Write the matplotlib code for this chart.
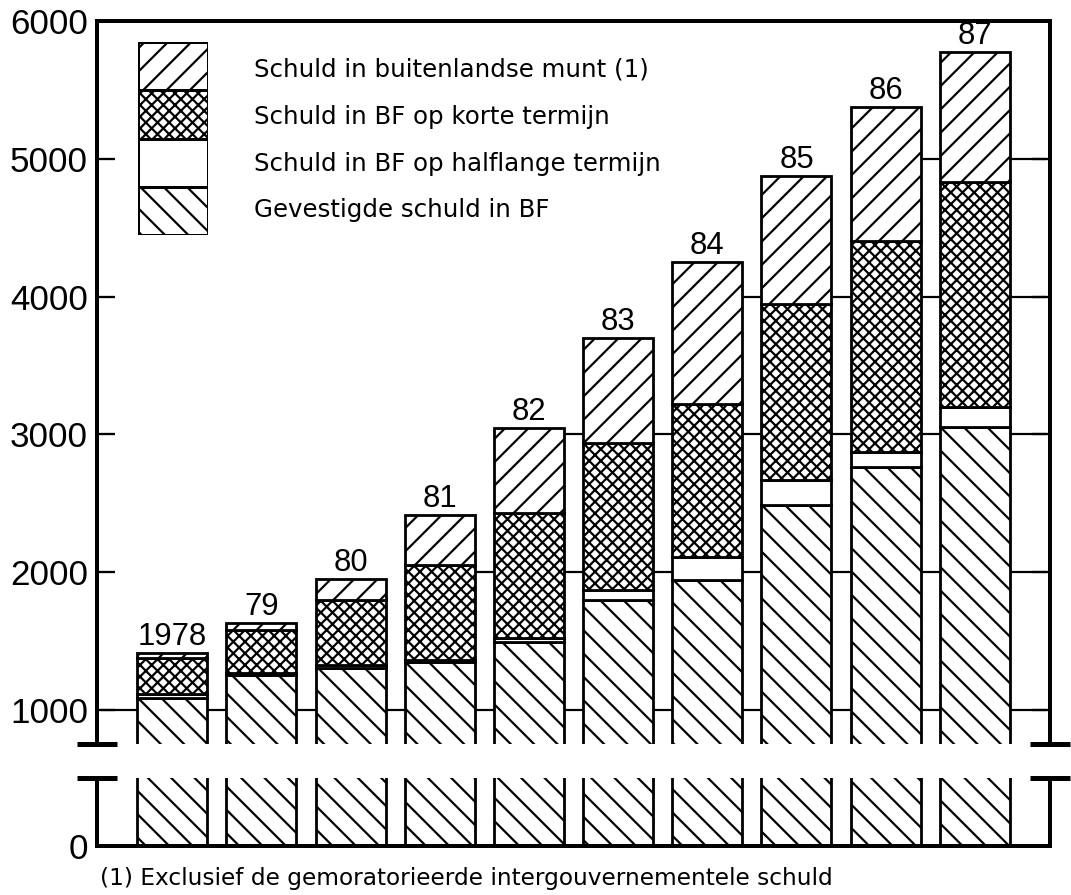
#!/usr/bin/env python3

import matplotlib
matplotlib.use("Agg")
import matplotlib.pyplot as plt
import numpy as np

# jaar-labels boven de staven
years = ["1978", "79", "80", "81", "82", "83", "84", "85", "86", "87"]

# stacked components
gevestigd = [1090, 1255, 1305, 1345, 1494, 1800, 1945, 2490, 2766, 3057]
halflang = [25, 15, 22, 15, 25, 72, 167, 182, 109, 145]
kort = [265, 312, 472, 695, 913, 1068, 1112, 1271, 1526, 1628]
buitenland = [35, 50, 153, 363, 617, 756, 1025, 930, 974, 945]

legend_labels = [
    "Schuld in buitenlandse munt (1)",
    "Schuld in BF op korte termijn",
    "Schuld in BF op halflange termijn",
    "Gevestigde schuld in BF",
]
footnote = "(1) Exclusief de gemoratorieerde intergouvernementele schuld"

yticks_top = [1000, 2000, 3000, 4000, 5000, 6000]
grid_levels = [1000, 2000, 3000, 4000, 5000]

# hatch tile is one inch, so the dpi sets the hatch spacing of the scan
W, H, DPI = 1071, 895, 70
FONT = "Liberation Sans"
TEXT_FONT = "DejaVu Sans"
BAR_W = 0.785
XLIM = (-0.843, 9.843)


def pt(px):
    """pixels -> points at the figure dpi"""
    return px * 72.0 / DPI


def draw_stack(ax, x):
    """
    draw the four stacked series into one axes
    """
    series = [
        (gevestigd, "\\"),
        (halflang, ""),
        (kort, "xx"),
        (buitenland, "/"),
    ]
    bottom = np.zeros(len(x))
    for values, hatch in series:
        ax.bar(x, values, BAR_W, bottom=bottom, color="white",
               edgecolor="black", linewidth=pt(2.8), hatch=hatch, zorder=2)
        bottom += np.array(values)
    return bottom


def break_marks(ax, y):
    for x0 in (0.0, 1.0):
        ax.plot([x0 - 0.021, x0 + 0.021], [y, y], color="black",
                linewidth=pt(5), transform=ax.transAxes, clip_on=False,
                solid_capstyle="butt")


def main():
    plt.rcParams["font.family"] = [FONT, "DejaVu Sans"]
    plt.rcParams["hatch.linewidth"] = pt(2.2)
    plt.rcParams["hatch.color"] = "black"

    fig = plt.figure(figsize=(W / DPI, H / DPI), dpi=DPI)
    left = 97 / W
    width = (1050 - 97) / W
    ax_top = fig.add_axes([left, 1 - 744 / H, width, (744 - 21) / H])
    ax_bot = fig.add_axes([left, 1 - 846 / H, width, (846 - 778) / H])

    x = np.arange(len(years))
    totals = None
    for ax in (ax_top, ax_bot):
        totals = draw_stack(ax, x)
        ax.set_xlim(*XLIM)
        ax.set_xticks([])
        for spine in ax.spines.values():
            spine.set_linewidth(pt(4))

    ax_top.set_ylim(753, 6000)
    ax_bot.set_ylim(0, 494)
    ax_top.spines["bottom"].set_visible(False)
    ax_bot.spines["top"].set_visible(False)

    ax_top.set_yticks(yticks_top)
    ax_top.set_yticklabels([str(v) for v in yticks_top])
    ax_top.tick_params(axis="y", direction="in", length=pt(18),
                       width=pt(2.3), right=True, labelsize=pt(35),
                       pad=pt(9))
    ax_bot.set_yticks([0])
    ax_bot.tick_params(axis="y", direction="in", length=0,
                       labelsize=pt(35), pad=pt(9))

    break_marks(ax_top, 0.0)
    break_marks(ax_bot, 1.0)

    # horizontal lines only where both neighbours reach the level
    edges = [XLIM[0]] + list(x) + [XLIM[1]]
    heights = [totals[0]] + list(totals) + [totals[-1]]
    for lvl in grid_levels:
        for i in range(len(edges) - 1):
            if min(heights[i], heights[i + 1]) <= lvl:
                continue
            x0 = edges[i] + (BAR_W / 2 if i > 0 else 0.06)
            x1 = edges[i + 1] - (BAR_W / 2 if i + 1 < len(edges) - 1 else 0.06)
            ax_top.plot([x0, x1], [lvl, lvl], color="black",
                        linewidth=pt(2.2), zorder=1)

    for xi, tot, lab in zip(x, totals, years):
        ax_top.annotate(lab, (xi, tot), xytext=(0, pt(8)),
                        textcoords="offset points", ha="center",
                        va="baseline", fontsize=pt(31))

    # legend drawn as a small stacked column
    ax_leg = fig.add_axes([138 / W, 1 - 235 / H, 70 / W, 193 / H])
    leg_hatch = ["\\", "", "xx", "/"]
    for i, hatch in enumerate(leg_hatch):
        ax_leg.bar(0, 1, 1.0, bottom=i, color="white", edgecolor="black",
                   linewidth=pt(3), hatch=hatch)
    ax_leg.set_xlim(-0.5, 0.5)
    ax_leg.set_ylim(0, 4)
    ax_leg.axis("off")
    for i, lab in enumerate(legend_labels):
        ax_leg.text(1.16, 3.42 - 0.97 * i, lab, ha="left", va="center",
                    fontsize=pt(24.5), family=[TEXT_FONT])

    fig.text(100 / W, 1 - 878 / H, footnote, ha="left", va="center",
             fontsize=pt(23.2), family=[TEXT_FONT])

    fig.savefig("out.png", dpi=DPI)


if __name__ == '__main__':
    main()
